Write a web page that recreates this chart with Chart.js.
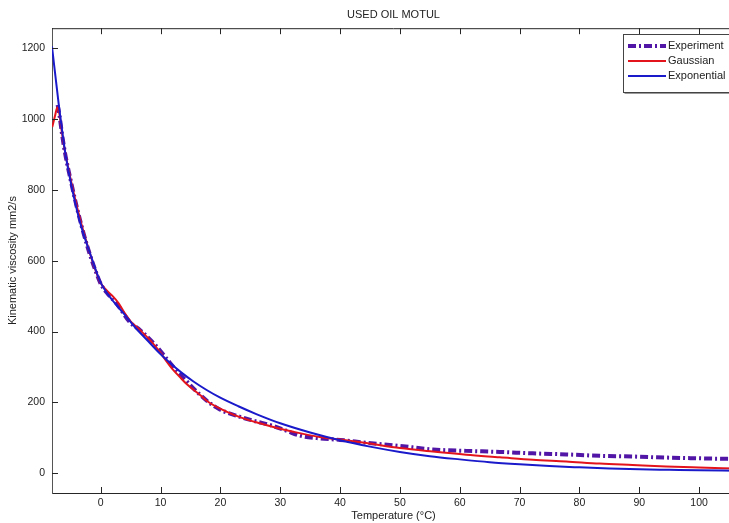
<!DOCTYPE html>
<html>
<head>
<meta charset="utf-8">
<script src="https://cdn.jsdelivr.net/npm/chart.js@4"></script>
<style>
  html, body { margin: 0; padding: 0; background: #fff; overflow: hidden; }
</style>
</head>
<body>
<canvas id="chart" width="740" height="523"></canvas>
<script>
// values
const testTemp = [-7.2, -6.9, -6.5, -6, -5, -4, -3, -2, -1, 0, 1, 2.7, 4.9, 6.6, 9.4, 11.6, 14, 16, 18, 19.9,
  23.3, 26, 28.3, 31, 33.3, 36.1, 40, 44.4, 50, 55.5, 61.1, 66.7, 72.2, 77.8, 83.4, 88.9, 94.5, 100, 106];
const testVisc = [1040, 1012, 962, 908, 826, 752, 686, 628, 578, 535, 510, 478, 426, 404, 357, 311, 266, 231, 201, 180,
  159, 146, 136, 120, 106, 99, 94, 86, 77, 67, 63, 60, 56, 53, 49, 47, 44, 42, 40];

const gaussTemp = [-8.1, -7.6, -7.25, -6.9, -6.5, -6, -5, -4, -3, -2, -1, 0, 1, 2, 3, 4, 5, 6, 7, 8, 9, 10, 11, 12,
  13.2, 14.4, 16.6, 18, 21, 23.5, 26.6, 29, 32.2, 36.6, 40, 44.4, 50, 55.5, 61.1, 66.7, 72.2, 77.8, 83.4, 88.9, 94.5, 100, 106];
const gaussVisc = [978, 1012, 1033, 1015, 965, 912, 828, 755, 690, 632, 580, 537, 516, 500, 480, 452, 429, 413, 397, 380, 361, 340, 316, 294,
  272, 251, 221, 201, 174, 157, 141, 130, 117, 102, 95, 85, 71, 61, 52, 45, 38, 33, 27, 23, 19, 16, 13];

const expoTemp = [-8.14, -7, -6, -5, -3.5, -1.8, -0.1, 1.8, 3.8, 5.7, 7.7, 9.6, 11.6, 13.5, 15.5, 17.7, 19.9,
  23, 26, 30, 35, 40, 45, 50, 55, 60, 65, 70, 75, 80, 85, 90, 95, 100, 106];
const expoVisc = [1205, 1040, 913, 822, 712, 622, 542, 492, 452, 413, 377, 343, 311, 284, 259, 235, 214,
  189, 167, 141, 115, 93, 75, 60, 48, 39, 31, 25, 20, 16.5, 13.5, 11, 9.5, 8, 7];

const xTicks = [0, 10, 20, 30, 40, 50, 60, 70, 80, 90, 100];
const yTicks = [0, 200, 400, 600, 800, 1000, 1200];

const FONT = "'Liberation Sans', Arial, sans-serif";
const TEXT = '#222';
const AXIS = '#262626';

function toPoints(xs, ys) {
  return xs.map((x, i) => ({ x: x, y: ys[i] }));
}

// top border and inward tick marks, like the matlab box
const framePlugin = {
  id: 'frame',
  afterDraw(chart) {
    const { ctx, chartArea: a, scales } = chart;
    ctx.save();
    ctx.strokeStyle = AXIS;
    ctx.lineWidth = 1;
    ctx.beginPath();
    ctx.moveTo(a.left, a.top + 0.5);
    ctx.lineTo(a.right, a.top + 0.5);
    xTicks.forEach(v => {
      const px = Math.round(scales.x.getPixelForValue(v)) + 0.5;
      ctx.moveTo(px, a.bottom);
      ctx.lineTo(px, a.bottom - 6);
      ctx.moveTo(px, a.top);
      ctx.lineTo(px, a.top + 6);
    });
    yTicks.forEach(v => {
      const py = Math.round(scales.y.getPixelForValue(v)) + 0.5;
      ctx.moveTo(a.left, py);
      ctx.lineTo(a.left + 6, py);
    });
    ctx.stroke();
    ctx.restore();
  }
};

const legendPlugin = {
  id: 'boxLegend',
  afterDraw(chart) {
    const ctx = chart.ctx;
    const left = 623, top = 34, bottom = 92, right = 738;
    ctx.save();
    ctx.fillStyle = '#fff';
    ctx.fillRect(left, top, right - left, bottom - top);
    ctx.strokeStyle = '#9a9a9a';
    ctx.lineWidth = 1;
    ctx.beginPath();
    ctx.moveTo(left + 1.5, bottom + 1.5);
    ctx.lineTo(right, bottom + 1.5);
    ctx.stroke();
    ctx.strokeStyle = '#444';
    ctx.strokeRect(left + 0.5, top + 0.5, right - left, bottom - top);
    chart.data.datasets.forEach((ds, i) => {
      const y = 46 + i * 15;
      ctx.beginPath();
      ctx.strokeStyle = ds.borderColor;
      ctx.lineWidth = ds.borderWidth;
      ctx.setLineDash(ds.borderDash || []);
      ctx.moveTo(628, y);
      ctx.lineTo(666, y);
      ctx.stroke();
      ctx.setLineDash([]);
      ctx.fillStyle = TEXT;
      ctx.font = '11px ' + FONT;
      ctx.textBaseline = 'middle';
      ctx.textAlign = 'left';
      ctx.fillText(ds.label, 668, y);
    });
    ctx.restore();
  }
};

new Chart(document.getElementById('chart'), {
  type: 'line',
  data: {
    datasets: [
      {
        label: 'Experiment',
        data: toPoints(testTemp, testVisc),
        borderColor: '#5216a6',
        borderWidth: 4,
        borderDash: [8, 3, 2, 3],
        pointRadius: 0,
        cubicInterpolationMode: 'monotone',
        fill: false,
        order: 3
      },
      {
        label: 'Gaussian',
        data: toPoints(gaussTemp, gaussVisc),
        borderColor: '#e3141c',
        borderWidth: 2,
        pointRadius: 0,
        cubicInterpolationMode: 'monotone',
        fill: false,
        order: 2
      },
      {
        label: 'Exponential',
        data: toPoints(expoTemp, expoVisc),
        borderColor: '#1a1acb',
        borderWidth: 2,
        pointRadius: 0,
        cubicInterpolationMode: 'monotone',
        fill: false,
        order: 1
      }
    ]
  },
  options: {
    responsive: false,
    animation: false,
    devicePixelRatio: 1,
    layout: { padding: { left: 0, right: 5, top: 0, bottom: 0 } },
    plugins: {
      legend: { display: false },
      tooltip: { enabled: false },
      title: {
        display: true,
        text: 'USED OIL MOTUL',
        fullSize: false,
        color: TEXT,
        font: { family: FONT, size: 11, weight: 'normal' },
        padding: { top: 8, bottom: 7 }
      }
    },
    scales: {
      x: {
        type: 'linear',
        min: -8.14,
        max: 106,
        grid: { display: false, drawTicks: false },
        border: { display: true, color: AXIS, width: 1 },
        ticks: { color: TEXT, font: { family: FONT, size: 10.5 }, padding: 4, maxRotation: 0, callback: v => String(v) },
        afterBuildTicks: s => { s.ticks = xTicks.map(v => ({ value: v })); },
        afterFit: s => { s.height = 30; },
        title: {
          display: true,
          text: 'Temperature (°C)',
          color: TEXT,
          font: { family: FONT, size: 11 },
          padding: { top: 0, bottom: 0 }
        }
      },
      y: {
        type: 'linear',
        min: -56,
        max: 1257,
        grid: { display: false, drawTicks: false },
        border: { display: true, color: '#555', width: 1 },
        ticks: { color: TEXT, font: { family: FONT, size: 10.5 }, padding: 7, callback: v => String(v) },
        afterBuildTicks: s => { s.ticks = yTicks.map(v => ({ value: v })); },
        afterFit: s => { s.width = 52; },
        title: {
          display: true,
          text: 'Kinematic viscosity mm2/s',
          color: TEXT,
          font: { family: FONT, size: 11 },
          padding: { top: 6, bottom: 0 }
        }
      }
    }
  },
  plugins: [framePlugin, legendPlugin]
});
</script>
</body>
</html>
